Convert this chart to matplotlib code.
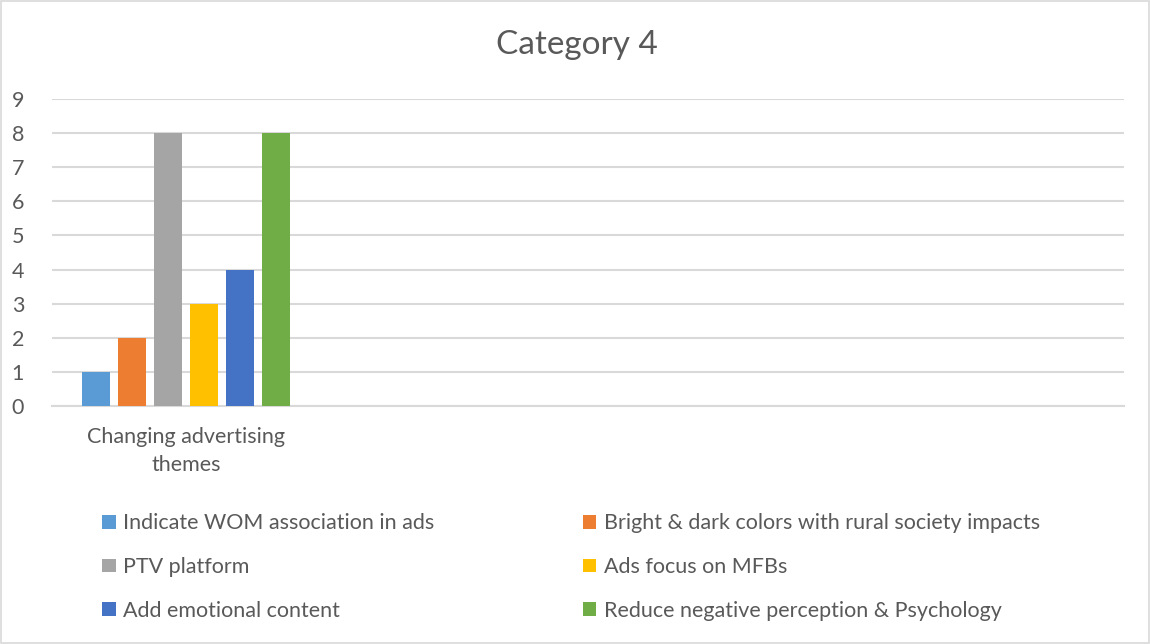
import matplotlib.pyplot as plt
from matplotlib.patches import Rectangle
import numpy as np

plt.rcParams["font.family"] = ["Lato", "DejaVu Sans"]

TEXT = "#595959"
GRID = "#d9d9d9"

categories = ["Changing advertising\nthemes", "", "", ""]
series = [
    "Indicate WOM association in ads",
    "Bright & dark colors with rural society impacts",
    "PTV platform",
    "Ads focus on MFBs",
    "Add emotional content",
    "Reduce negative perception & Psychology",
]
values = [
    [1, np.nan, np.nan, np.nan],
    [2, np.nan, np.nan, np.nan],
    [8, np.nan, np.nan, np.nan],
    [3, np.nan, np.nan, np.nan],
    [4, np.nan, np.nan, np.nan],
    [8, np.nan, np.nan, np.nan],
]
colors = ["#5B9BD5", "#ED7D31", "#A5A5A5", "#FFC000", "#4472C4", "#70AD47"]

fig = plt.figure(figsize=(11.5, 6.44), dpi=100)
ax = fig.add_axes([52 / 1150, 1 - 406 / 644, 1072 / 1150, 307 / 644])

x = np.arange(len(categories))
step = 0.134
width = 0.104
handles = []
for i, (name, vals, c) in enumerate(zip(series, values, colors)):
    b = ax.bar(x + (i - 2.5) * step, vals, width, color=c, label=name, zorder=3)
    handles.append(b)

ax.set_xlim(-0.5, len(categories) - 0.5)
ax.set_ylim(0, 9)
ax.set_yticks(range(0, 10))
ax.yaxis.grid(True, color=GRID, linewidth=1.5, zorder=0)
for s in ["top", "right", "left"]:
    ax.spines[s].set_visible(False)
ax.spines["bottom"].set_color(GRID)
ax.spines["bottom"].set_linewidth(1.5)
ax.set_xticks(x)
ax.set_xticklabels(categories, linespacing=1.5)
ax.tick_params(axis="both", length=0, labelsize=15.5, labelcolor=TEXT)
ax.tick_params(axis="y", pad=29)
ax.tick_params(axis="x", pad=15)
for lbl in ax.get_yticklabels():
    lbl.set_horizontalalignment("left")

fig.text(0.5015, 1 - 45 / 644, "Category 4", ha="center", va="center",
         fontsize=24, color=TEXT)

# legend fills row by row: reorder for matplotlib's column-major layout
order = [0, 2, 4, 1, 3, 5]
fig.legend(handles=[handles[i] for i in order], labels=[series[i] for i in order],
           ncol=2, frameon=False,
           loc="upper left", bbox_to_anchor=(83 / 1150, 1 - 494 / 644),
           fontsize=15.5, labelcolor=TEXT, handlelength=0.62, handleheight=0.62,
           handletextpad=0.35, labelspacing=1.1, columnspacing=6.9)

fig.patches.append(Rectangle((0.001, 0.001), 0.998, 0.997, transform=fig.transFigure,
                             fill=False, edgecolor=GRID, linewidth=1.2))

fig.savefig("out.png", dpi=100, facecolor="white")
